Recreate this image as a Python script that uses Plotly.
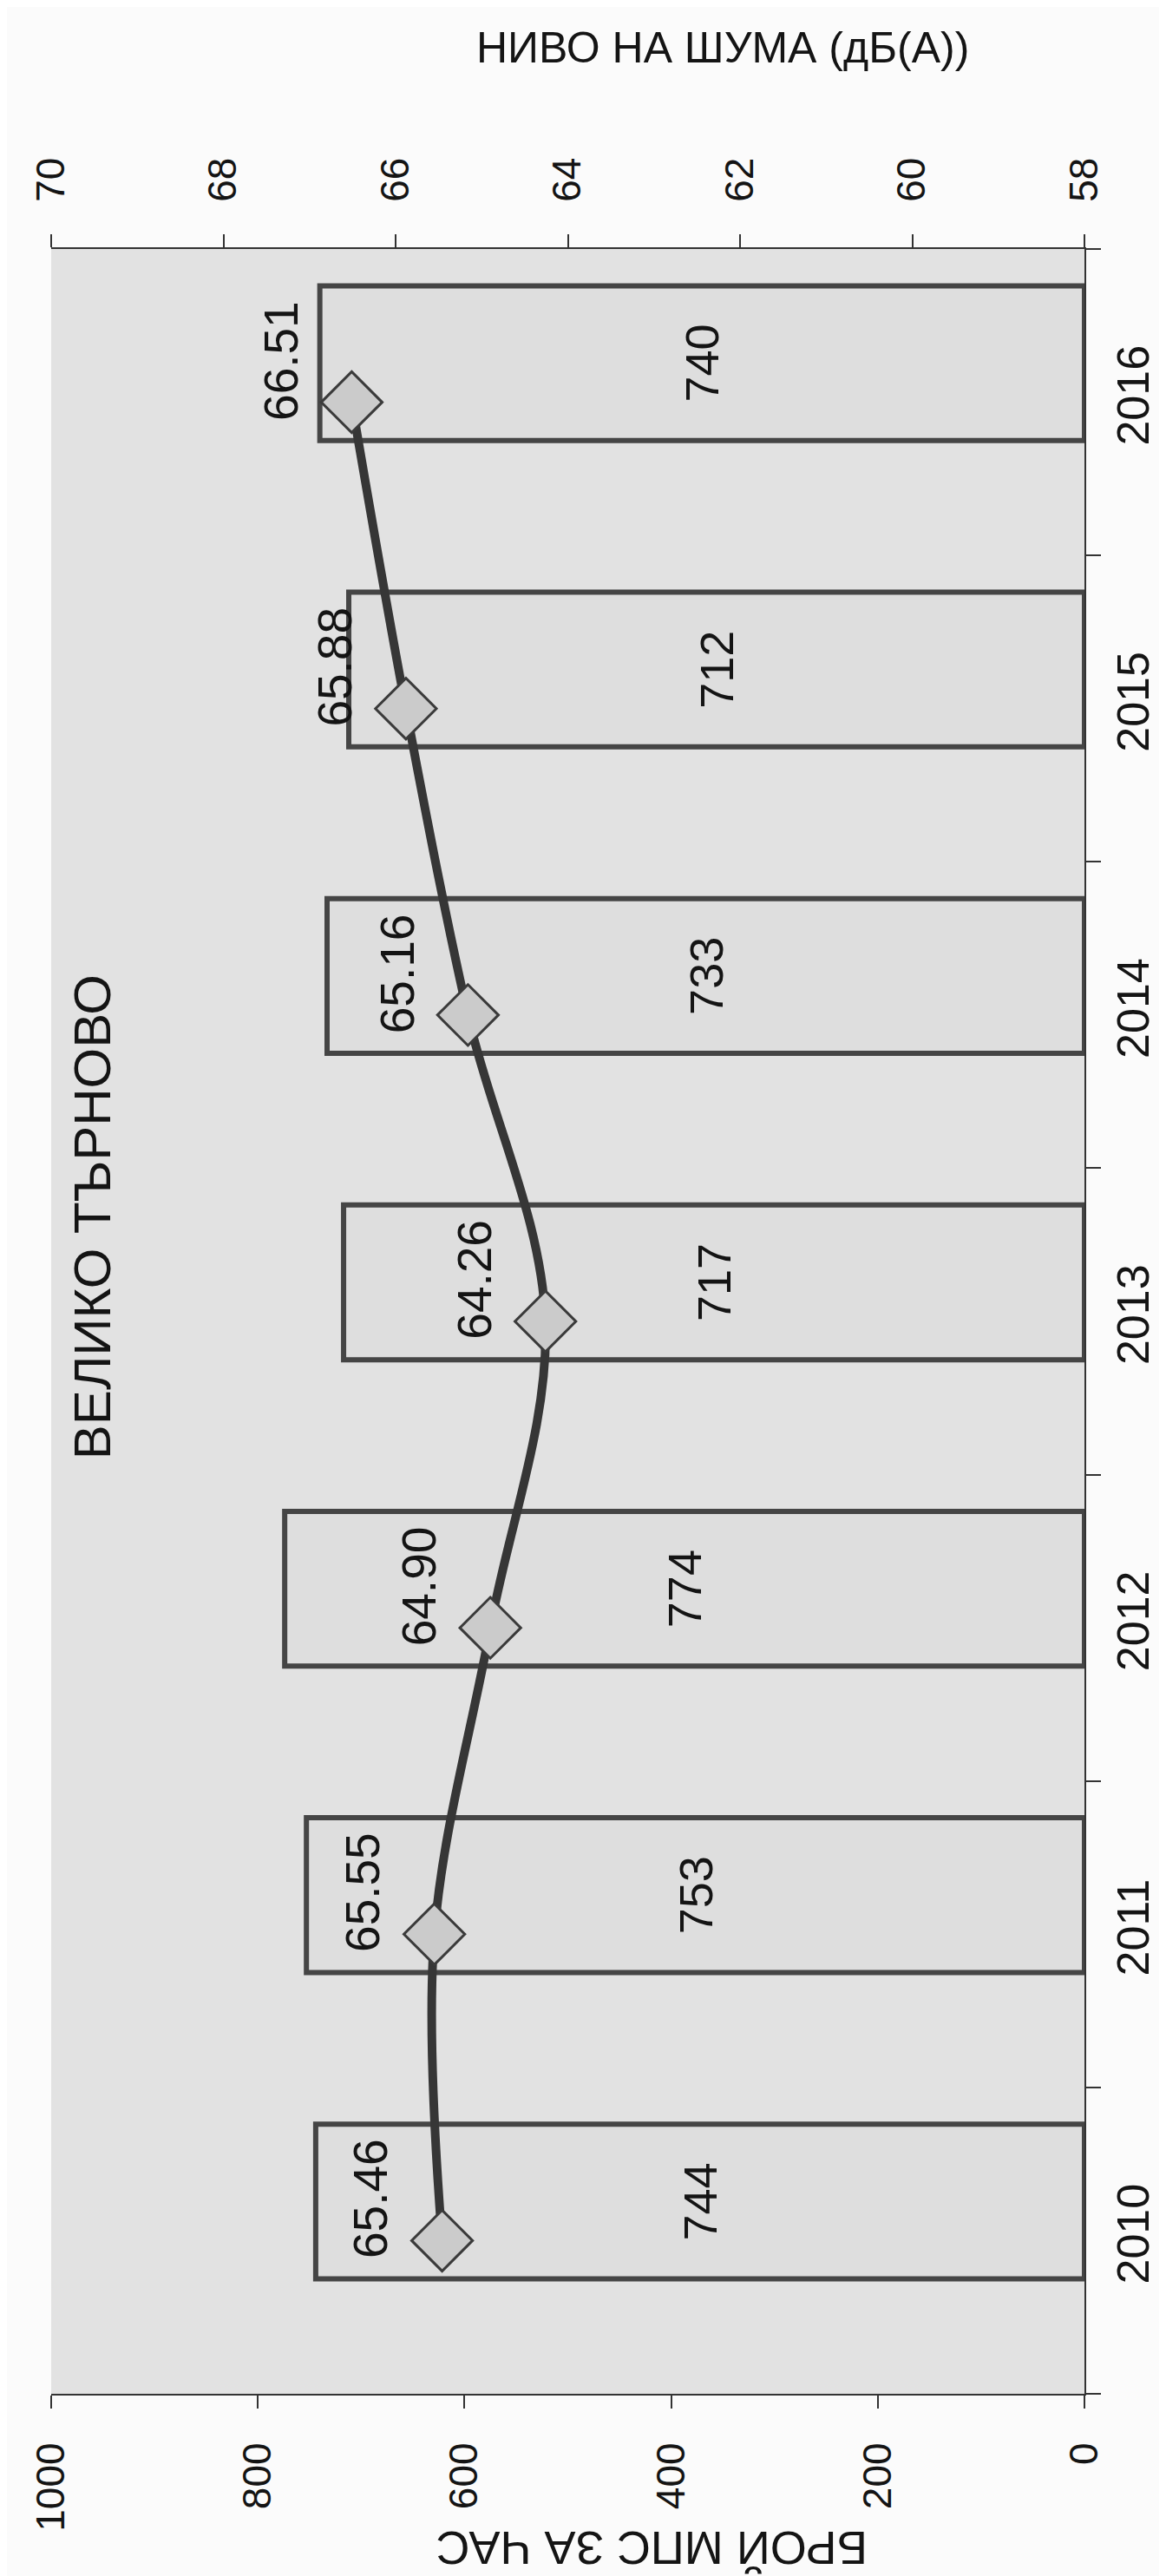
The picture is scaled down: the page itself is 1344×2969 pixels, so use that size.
import plotly.graph_objects as go

years = ["2010", "2011", "2012", "2013", "2014", "2015", "2016"]
vehicles_per_hour = [744, 753, 774, 717, 733, 712, 740]
noise_level = [65.46, 65.55, 64.90, 64.26, 65.16, 65.88, 66.51]
count_ticks = [0, 200, 400, 600, 800, 1000]
noise_ticks = [58, 60, 62, 64, 66, 68, 70]

title_text = "ВЕЛИКО ТЪРНОВО"
count_title = "БРОЙ МПС ЗА ЧАС"
noise_title = "НИВО НА ШУМА (дБ(А))"

FONT = "Liberation Sans, Arial, sans-serif"
INK = "#141414"
AXIS = "#333333"

fig = go.Figure()

fig.add_trace(go.Bar(
    x=vehicles_per_hour, y=years, orientation="h",
    xaxis="x", yaxis="y",
    offset=-0.125, width=0.505,
    marker=dict(color="#dedede", line=dict(color="#454545", width=6)),
    text=[str(v) for v in vehicles_per_hour],
    textposition="inside", insidetextanchor="middle", textangle=-90,
    textfont=dict(size=54, color=INK, family=FONT),
    constraintext="none",
    showlegend=False,
))

fig.add_trace(go.Scatter(
    x=noise_level, y=years, xaxis="x2", yaxis="y",
    mode="lines+markers",
    line=dict(shape="spline", smoothing=1.0, color="#363636", width=10),
    marker=dict(symbol="diamond", size=54, color="#cbcbcb",
                line=dict(color="#3a3a3a", width=3)),
    showlegend=False,
))

# data labels for the noise line ("above" the points in the rotated frame)
# category axis: annotation positions use the category serial number
for i, v in enumerate(noise_level):
    fig.add_annotation(
        x=v, y=i, xref="x2", yref="y",
        text=f"{v:.2f}", showarrow=False, textangle=-90,
        xanchor="center", yanchor="middle",
        xshift=-82, yshift=48,
        font=dict(size=55, color=INK, family=FONT),
    )

axis_common = dict(
    showline=True, linecolor=AXIS, linewidth=2,
    ticks="outside", ticklen=15, tickwidth=2, tickcolor=AXIS,
    tickangle=-90, showgrid=False, zeroline=False, automargin=False,
    tickfont=dict(size=46, color=INK, family=FONT),
)

fig.update_layout(
    width=1344, height=2969,
    margin=dict(l=51, r=102, t=279, b=218, autoexpand=False),
    paper_bgcolor="#fbfbfb",
    plot_bgcolor="#e2e2e2",
    font=dict(family=FONT, color=INK),
    xaxis=dict(range=[1000, 0], tickvals=count_ticks, side="bottom",
               ticklabelstandoff=21, **axis_common),
    xaxis2=dict(range=[70, 58], tickvals=noise_ticks, side="top",
                overlaying="x", ticklabelstandoff=28, **axis_common),
    yaxis=dict(
        type="category", categoryorder="array", categoryarray=years,
        range=[-0.5, 6.5], side="right", automargin=False,
        showline=True, linecolor=AXIS, linewidth=2,
        ticks="outside", tickson="boundaries", ticklen=17, tickwidth=2,
        tickcolor=AXIS, tickangle=-90, showgrid=False, zeroline=False,
        tickfont=dict(size=52, color=INK, family=FONT),
        ticklabelstandoff=10,
    ),
)

# chart title and axis titles (rotated frame)
fig.add_annotation(text=title_text, xref="paper", yref="paper",
                   x=0.0395, y=0.5485, xanchor="center", yanchor="middle",
                   showarrow=False, textangle=-90,
                   font=dict(size=60, color=INK, family=FONT))
fig.add_annotation(text=noise_title, xref="paper", yref="paper",
                   x=0.65, y=1.094, xanchor="center", yanchor="middle",
                   showarrow=False, textangle=0,
                   font=dict(size=50, color=INK, family=FONT))
fig.add_annotation(text=count_title, xref="paper", yref="paper",
                   x=0.581, y=-0.072, xanchor="center", yanchor="middle",
                   showarrow=False, textangle=180,
                   font=dict(size=54, color=INK, family=FONT))

fig.write_html("out.html")
